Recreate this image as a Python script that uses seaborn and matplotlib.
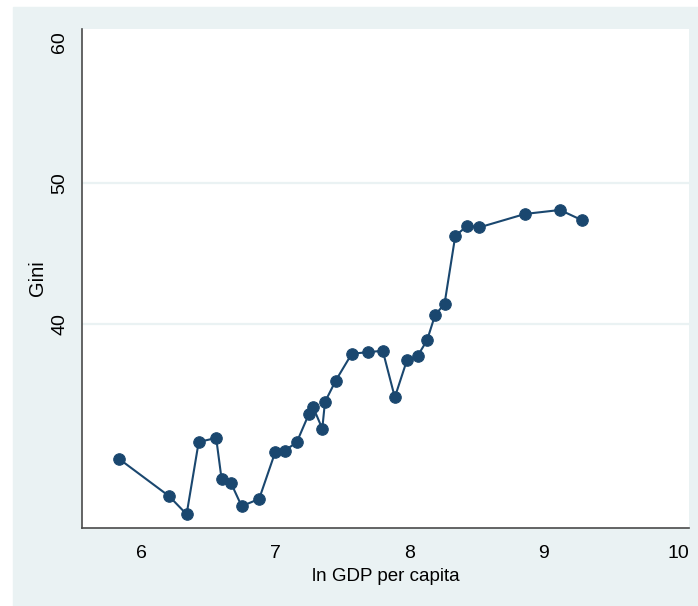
import pandas as pd
import seaborn as sns
import matplotlib.pyplot as plt
from matplotlib.patches import Rectangle

# values
ln_gdp = [5.84, 6.21, 6.34, 6.43, 6.56, 6.60, 6.67, 6.75, 6.88, 7.00,
          7.07, 7.16, 7.25, 7.28, 7.35, 7.37, 7.45, 7.57, 7.69, 7.80,
          7.89, 7.98, 8.06, 8.13, 8.19, 8.26, 8.34, 8.43, 8.52, 8.86,
          9.12, 9.28]
gini = [30.45, 27.83, 26.55, 31.67, 31.95, 29.07, 28.77, 27.12, 27.64, 30.96,
        31.05, 31.65, 33.64, 34.17, 32.61, 34.50, 36.01, 37.92, 38.02, 38.13,
        34.83, 37.45, 37.76, 38.87, 40.66, 41.44, 46.25, 46.98, 46.86, 47.81,
        48.09, 47.38]
x_ticks = [6, 7, 8, 9, 10]
y_ticks = [40, 50, 60]
grid_at = [40, 50]

df = pd.DataFrame({'ln_gdp': ln_gdp, 'gini': gini})

sns.set_theme(style='white')
plt.rcParams['font.family'] = ['Liberation Sans', 'DejaVu Sans']

navy = '#1A476F'
bg = '#EAF2F3'
axis_col = '#4a4a4a'

fig = plt.figure(figsize=(6.98, 6.06), dpi=100, facecolor='white')
fig.patches.append(Rectangle((12.5 / 698, 0), 1, 1 - 7 / 606,
                             transform=fig.transFigure, color=bg, zorder=-1))
ax = fig.add_axes([81.7 / 698, 1 - 527.7 / 606,
                   (689 - 81.7) / 698, (527.7 - 29) / 606])
ax.set_facecolor('white')

for g in grid_at:
    ax.axhline(g, color=bg, lw=1.6, zorder=0)

sns.lineplot(data=df, x='ln_gdp', y='gini', marker='o', markersize=8.3,
             color=navy, linewidth=1.5, markeredgecolor=navy,
             sort=False, estimator=None, ax=ax)

ax.set_xlim(5.559, 10.08)
ax.set_ylim(25.6, 60.9)
ax.set_xticks(x_ticks)
ax.set_yticks(y_ticks)
ax.set_yticklabels([str(t) for t in y_ticks], rotation=90, va='center')

for side in ['top', 'right']:
    ax.spines[side].set_visible(False)
for side in ['left', 'bottom']:
    ax.spines[side].set_color(axis_col)
    ax.spines[side].set_linewidth(1.2)

ax.tick_params(axis='both', direction='out', length=5.8, width=1,
               color=axis_col, labelsize=14, labelcolor='black')
ax.tick_params(axis='x', pad=6.5)
ax.tick_params(axis='y', pad=4)

ax.set_xlabel('ln GDP per capita', fontsize=13.5, labelpad=4.5, color='black')
ax.set_ylabel('Gini', fontsize=14.5, labelpad=3, color='black')

fig.savefig('out.png', dpi=100)
